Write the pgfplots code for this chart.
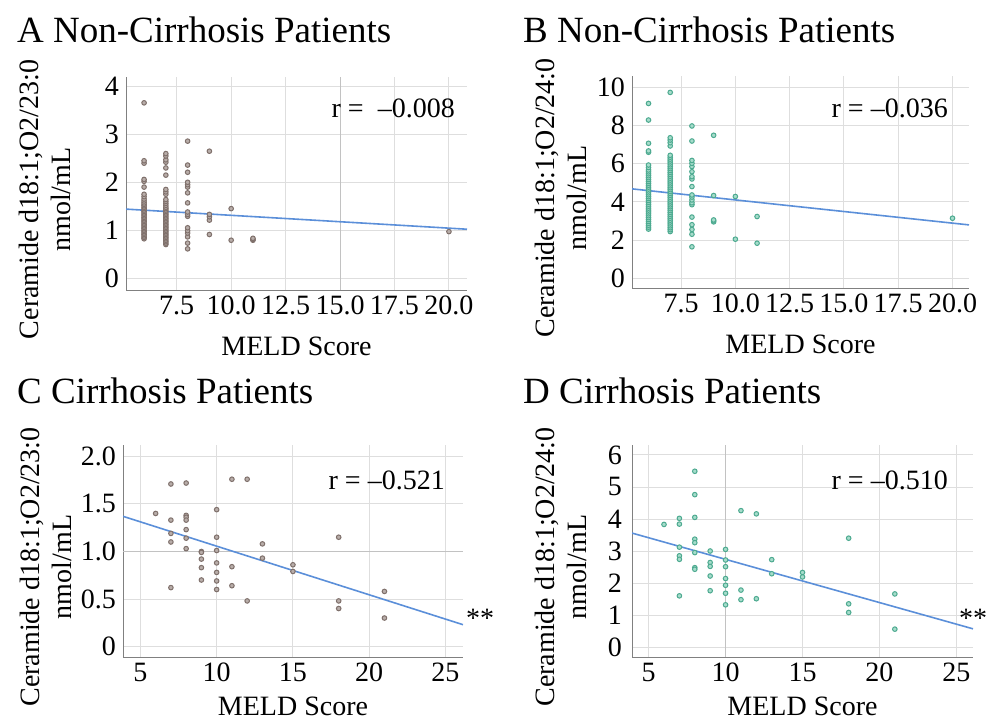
\documentclass[border=0pt]{standalone}
\usepackage{fontspec}
\setmainfont{Liberation Serif}
\usepackage{pgfplots}
\pgfplotsset{compat=1.18}

\definecolor{brn}{HTML}{7F706B}
\definecolor{brnfill}{HTML}{B8ADA9}
\definecolor{tl}{HTML}{4DAA90}
\definecolor{tlfill}{HTML}{A6DCCB}
\definecolor{regl}{HTML}{5B8FD9}

\newcommand\lab{\fontsize{28bp}{32bp}\selectfont}
\newcommand\ttl{\fontsize{37bp}{40bp}\selectfont}

\tikzset{refline/.style={draw=black!24, line width=0.9bp}}

\pgfplotsset{
  panel/.style={
    scale only axis,
    axis lines*=left,
    axis line style={draw=black!50, line width=1bp},
    grid=major,
    grid style={draw=black!13, line width=0.9bp},
    major tick length=0pt,
    tick label style={font=\lab},
    /pgf/number format/assume math mode=true,
    xticklabel style={anchor=base, inner sep=0pt, yshift=-24bp},
    yticklabel style={anchor=east, inner sep=0pt, xshift=-7bp},
    xlabel={MELD Score},
    xlabel style={font=\lab, at={(axis description cs:0.5,0)}, anchor=base, yshift=-65bp, inner sep=0pt},
    ylabel style={font=\lab, align=center, anchor=center},
  },
  brnpts/.style={only marks, mark=*, mark size=2.3bp, mark options={draw=brn, fill=brnfill, line width=1bp}},
  tlpts/.style={only marks, mark=*, mark size=2.3bp, mark options={draw=tl, fill=tlfill, line width=1bp}},
  fitline/.style={regl, line width=1.6bp, no marks},
}

\begin{document}
\begin{tikzpicture}

% ---------------- A ----------------
\begin{axis}[panel,
  at={(126bp,-290bp)}, anchor=south west,
  width=341bp, height=213bp,
  xmin=5.17, xmax=20.83, ymin=-0.25, ymax=4.2,
  xtick={7.5,10,12.5,15,17.5,20},
  xticklabels={7.5,10.0,12.5,15.0,17.5,20.0},
  ytick={0,1,2,3,4},
  ylabel={Ceramide d18:1;O2/23:0\\nmol/mL},
  ylabel style={at={(axis description cs:-0.2375,0.425)}},
]
\draw[refline] (axis cs:15,-0.25) -- (axis cs:15,4.2);
\addplot[brnpts] coordinates {
 (6,0.82) (6,0.85) (6,0.88) (6,0.91) (6,0.94) (6,0.97) (6,1.00) (6,1.03) (6,1.06) (6,1.09)
 (6,1.12) (6,1.15) (6,1.18) (6,1.21) (6,1.24) (6,1.27) (6,1.30) (6,1.33) (6,1.36) (6,1.39)
 (6,1.42) (6,1.45) (6,1.48) (6,1.51) (6,1.54) (6,1.57) (6,1.61) (6,1.65) (6,1.70) (6,1.75)
 (6,1.90) (6,2.02) (6,2.06) (6,2.40) (6,2.45) (6,3.66)
 (7,0.70) (7,0.73) (7,0.76) (7,0.79) (7,0.82) (7,0.85) (7,0.88) (7,0.91) (7,0.94) (7,0.97)
 (7,1.00) (7,1.03) (7,1.06) (7,1.09) (7,1.12) (7,1.15) (7,1.18) (7,1.21) (7,1.24) (7,1.27)
 (7,1.30) (7,1.33) (7,1.36) (7,1.39) (7,1.42) (7,1.45) (7,1.48) (7,1.52) (7,1.56) (7,1.60)
 (7,1.64) (7,1.75) (7,1.80) (7,1.85) (7,2.15) (7,2.30) (7,2.42) (7,2.47) (7,2.55) (7,2.60)
 (8,0.61) (8,0.73) (8,0.86) (8,0.94) (8,0.99) (8,1.05) (8,1.29) (8,1.33) (8,1.38) (8,1.57)
 (8,1.78) (8,1.90) (8,1.95) (8,2.00) (8,2.21) (8,2.36) (8,2.86)
 (9,0.91) (9,1.21) (9,1.28) (9,1.33) (9,2.65)
 (10,0.79) (10,1.45)
 (11,0.79) (11,0.81) (11,0.83)
 (20,0.97)
};
\addplot[fitline] coordinates {(5.17,1.44) (20.83,1.02)};
\end{axis}

% ---------------- B ----------------
\begin{axis}[panel,
  at={(632bp,-288bp)}, anchor=south west,
  width=337bp, height=212bp,
  xmin=5.24, xmax=20.76, ymin=-0.52, ymax=10.6,
  xtick={7.5,10,12.5,15,17.5,20},
  xticklabels={7.5,10.0,12.5,15.0,17.5,20.0},
  ytick={0,2,4,6,8,10},
  ylabel={Ceramide d18:1;O2/24:0\\nmol/mL},
  ylabel style={at={(axis description cs:-0.2107,0.425)}},
]
\addplot[tlpts] coordinates {
 (6,2.57) (6,2.67) (6,2.77) (6,2.87) (6,2.97) (6,3.07) (6,3.17) (6,3.27) (6,3.37) (6,3.47)
 (6,3.57) (6,3.67) (6,3.77) (6,3.87) (6,3.97) (6,4.07) (6,4.17) (6,4.27) (6,4.37) (6,4.47)
 (6,4.57) (6,4.67) (6,4.77) (6,4.87) (6,4.97) (6,5.07) (6,5.17) (6,5.27) (6,5.37) (6,5.47)
 (6,5.57) (6,5.67) (6,5.80) (6,5.93) (6,6.60) (6,6.67) (6,7.07) (6,8.29) (6,9.16)
 (7,2.44) (7,2.54) (7,2.64) (7,2.74) (7,2.84) (7,2.94) (7,3.04) (7,3.14) (7,3.24) (7,3.34)
 (7,3.44) (7,3.54) (7,3.64) (7,3.74) (7,3.84) (7,3.94) (7,4.04) (7,4.14) (7,4.24) (7,4.34)
 (7,4.44) (7,4.54) (7,4.64) (7,4.74) (7,4.84) (7,4.94) (7,5.04) (7,5.14) (7,5.24) (7,5.34)
 (7,5.44) (7,5.54) (7,5.64) (7,5.74) (7,5.84) (7,5.94) (7,6.04) (7,6.14) (7,6.24) (7,6.34)
 (7,6.44) (7,6.93) (7,7.10) (7,7.24) (7,7.36) (7,9.74)
 (8,1.64) (8,2.30) (8,2.55) (8,2.80) (8,3.20) (8,3.85) (8,3.95) (8,4.10) (8,4.25) (8,4.36)
 (8,4.80) (8,5.20) (8,5.32) (8,5.58) (8,5.85) (8,6.02) (8,6.17) (8,7.19) (8,7.98)
 (9,2.95) (9,3.00) (9,3.05) (9,4.33) (9,7.49)
 (10,2.04) (10,4.28)
 (11,1.83) (11,3.23)
 (20,3.14)
};
\addplot[fitline] coordinates {(5.24,4.68) (20.76,2.79)};
\end{axis}

% ---------------- C ----------------
\begin{axis}[panel,
  at={(123bp,-657bp)}, anchor=south west,
  width=340bp, height=212bp,
  xmin=3.86, xmax=26.15, ymin=-0.11, ymax=2.12,
  xtick={5,10,15,20,25},
  xticklabels={5,10,15,20,25},
  ytick={0,0.5,1,1.5,2},
  yticklabels={0,0.5,1.0,1.5,2.0},
  xlabel style={yshift=7bp},
  ylabel={Ceramide d18:1;O2/23:0\\nmol/mL},
  ylabel style={at={(axis description cs:-0.2265,0.425)}},
]
\draw[refline] (axis cs:3.86,1) -- (axis cs:26.15,1);
\addplot[brnpts] coordinates {
 (6,1.40)
 (7,1.71) (7,1.33) (7,1.19) (7,1.10) (7,0.62)
 (8,1.72) (8,1.38) (8,1.36) (8,1.33) (8,1.23) (8,1.14) (8,1.03)
 (9,1.00) (9,0.99) (9,0.92) (9,0.83) (9,0.70)
 (10,1.44) (10,1.15) (10,1.01) (10,0.88) (10,0.78) (10,0.69) (10,0.60)
 (11,1.76) (11,0.84) (11,0.64)
 (12,1.76) (12,0.48)
 (13,1.08) (13,0.93)
 (15,0.86) (15,0.79)
 (18,1.15) (18,0.48) (18,0.40)
 (21,0.58) (21,0.30)
};
\addplot[fitline] coordinates {(3.86,1.37) (26.15,0.23)};
\end{axis}

% ---------------- D ----------------
\begin{axis}[panel,
  at={(632bp,-657bp)}, anchor=south west,
  width=341bp, height=212bp,
  xmin=3.92, xmax=26.08, ymin=-0.31, ymax=6.31,
  xtick={5,10,15,20,25},
  xticklabels={5,10,15,20,25},
  ytick={0,1,2,3,4,5,6},
  xlabel style={yshift=7bp},
  ylabel={Ceramide d18:1;O2/24:0\\nmol/mL},
  ylabel style={at={(axis description cs:-0.2082,0.425)}},
  yticklabel style={xshift=-3bp},
]
\draw[refline] (axis cs:10,-0.31) -- (axis cs:10,6.31);
\addplot[tlpts] coordinates {
 (6,3.83)
 (7,4.02) (7,3.84) (7,3.12) (7,2.85) (7,2.74) (7,1.60)
 (8,5.49) (8,4.76) (8,4.05) (8,3.37) (8,3.26) (8,2.95) (8,2.48) (8,2.43)
 (9,3.00) (9,2.64) (9,2.52) (9,2.22) (9,1.76)
 (10,3.05) (10,2.72) (10,2.51) (10,2.14) (10,1.93) (10,1.68) (10,1.32)
 (11,4.26) (11,1.78) (11,1.48)
 (12,4.16) (12,1.51)
 (13,2.73) (13,2.29)
 (15,2.33) (15,2.19)
 (18,3.40) (18,1.35) (18,1.08)
 (21,1.66) (21,0.56)
};
\addplot[fitline] coordinates {(3.92,3.56) (26.08,0.57)};
\end{axis}

% titles and annotations
\node[anchor=base west, inner sep=0pt, font=\ttl] at (17bp,-42bp) {A Non-Cirrhosis Patients};
\node[anchor=base west, inner sep=0pt, font=\ttl] at (523bp,-42bp) {B Non-Cirrhosis Patients};
\node[anchor=base west, inner sep=0pt, font=\ttl] at (17bp,-403bp) {C Cirrhosis Patients};
\node[anchor=base west, inner sep=0pt, font=\ttl] at (523bp,-403bp) {D Cirrhosis Patients};

\node[anchor=base east, inner sep=0pt, font=\lab] at (455bp,-117bp) {r =\ \ –0.008};
\node[anchor=base east, inner sep=0pt, font=\lab] at (948bp,-117bp) {r = –0.036};
\node[anchor=base east, inner sep=0pt, font=\lab] at (445bp,-489bp) {r = –0.521};
\node[anchor=base east, inner sep=0pt, font=\lab] at (948bp,-489bp) {r = –0.510};

\node[anchor=base west, inner sep=0pt, font=\lab] at (466bp,-627bp) {**};
\node[anchor=base west, inner sep=0pt, font=\lab] at (959bp,-627bp) {**};

\pgfresetboundingbox
\path[use as bounding box] (0,0) rectangle (992bp,-722bp);
\end{tikzpicture}
\end{document}
